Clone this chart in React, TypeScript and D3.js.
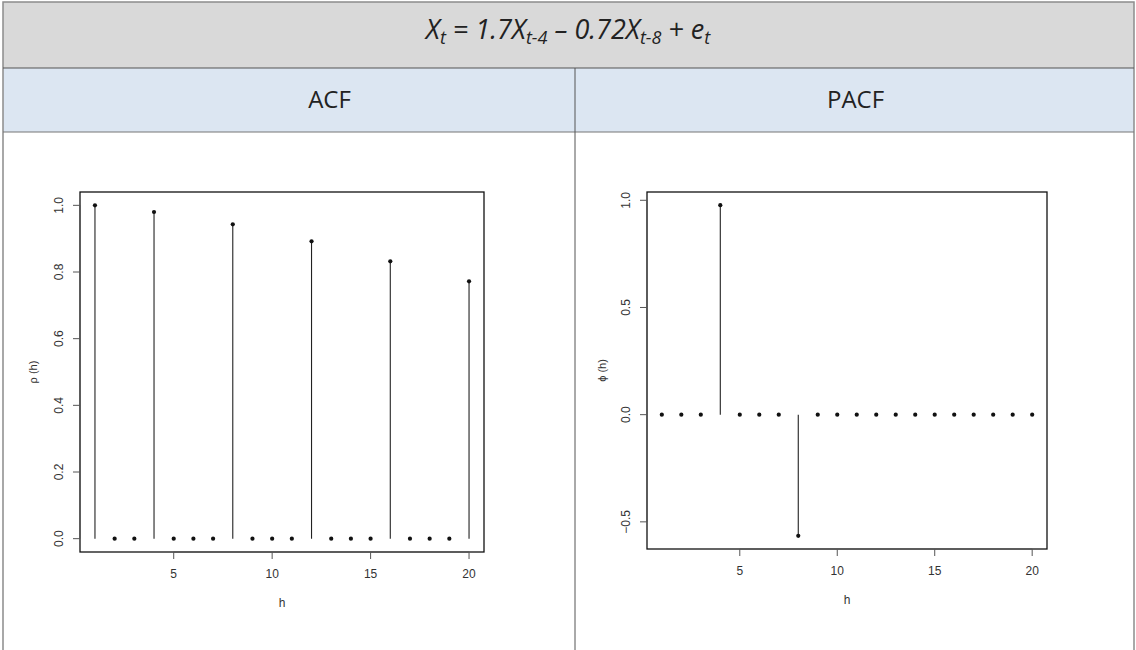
import * as d3 from "d3";

// lags 1..20 and the values
const LAGS = d3.range(1, 21);
const ACF_VALUES = [1.0, 0, 0, 0.98, 0, 0, 0, 0.943, 0, 0, 0, 0.892, 0, 0, 0, 0.832, 0, 0, 0, 0.772];
const PACF_VALUES = [0, 0, 0, 0.977, 0, 0, 0, -0.565, 0, 0, 0, 0, 0, 0, 0, 0, 0, 0, 0, 0];
const X_TICKS = [5, 10, 15, 20];
const ACF_Y_TICKS = [0, 0.2, 0.4, 0.6, 0.8, 1.0];
const PACF_Y_TICKS = [-0.5, 0, 0.5, 1.0];

const W = 1136;
const H = 650;
const DIVIDER_X = 575;
const BORDER = "#8c8c8c";
const TEXT = "#333";
const FONT = "'Liberation Sans', Arial, sans-serif";
const HEAD_FONT = "'Open Sans', 'Noto Sans', sans-serif";

type Frame = { left: number; top: number; right: number; bottom: number };

// R-style 4% padding on each side of the range
function padded(lo: number, hi: number): [number, number] {
  const p = (hi - lo) * 0.04;
  return [lo - p, hi + p];
}

function StemPlot({
  frame,
  values,
  yTicks,
  ylabel,
  yLabelX,
  yTickX,
}: {
  frame: Frame;
  values: number[];
  yTicks: number[];
  ylabel: string;
  yLabelX: number;
  yTickX: number;
}) {
  const x = d3
    .scaleLinear()
    .domain(padded(1, 20))
    .range([frame.left, frame.right]);
  const [lo, hi] = d3.extent(values) as [number, number];
  const y = d3
    .scaleLinear()
    .domain(padded(lo, hi))
    .range([frame.bottom, frame.top]);
  const fmt = d3.format(".1f");
  const tickLen = 7;
  const midY = (frame.top + frame.bottom) / 2;
  const midX = (frame.left + frame.right) / 2;

  return (
    <g fontFamily={FONT} fill={TEXT}>
      {/* stems */}
      {LAGS.map((h, i) => (
        <line
          key={`s${h}`}
          x1={x(h)}
          x2={x(h)}
          y1={y(0)}
          y2={y(values[i])}
          stroke="#222"
          strokeWidth={1.1}
        />
      ))}
      {LAGS.map((h, i) => (
        <circle key={`p${h}`} cx={x(h)} cy={y(values[i])} r={2.1} fill="#111" />
      ))}

      {/* frame */}
      <rect
        x={frame.left}
        y={frame.top}
        width={frame.right - frame.left}
        height={frame.bottom - frame.top}
        fill="none"
        stroke="#111"
        strokeWidth={1.3}
      />

      {/* x axis */}
      <line
        x1={x(X_TICKS[0])}
        x2={x(X_TICKS[X_TICKS.length - 1])}
        y1={frame.bottom}
        y2={frame.bottom}
        stroke="#555"
      />
      {X_TICKS.map((t) => (
        <g key={`xt${t}`}>
          <line
            x1={x(t)}
            x2={x(t)}
            y1={frame.bottom}
            y2={frame.bottom + tickLen}
            stroke="#555"
          />
          <text x={x(t)} y={frame.bottom + 22} dy="0.35em" textAnchor="middle" fontSize={12}>
            {t}
          </text>
        </g>
      ))}
      <text x={midX} y={frame.bottom + 51} dy="0.35em" textAnchor="middle" fontSize={12}>
        h
      </text>

      {/* y axis */}
      <line
        x1={frame.left}
        x2={frame.left}
        y1={y(yTicks[0])}
        y2={y(yTicks[yTicks.length - 1])}
        stroke="#555"
      />
      {yTicks.map((t) => (
        <g key={`yt${t}`}>
          <line
            x1={frame.left - tickLen}
            x2={frame.left}
            y1={y(t)}
            y2={y(t)}
            stroke="#555"
          />
          <text
            transform={`translate(${yTickX},${y(t)}) rotate(-90)`}
            dy="0.35em"
            textAnchor="middle"
            fontSize={12}
          >
            {fmt(t)}
          </text>
        </g>
      ))}
      <text
        transform={`translate(${yLabelX},${midY}) rotate(-90)`}
        dy="0.35em"
        textAnchor="middle"
        fontSize={11}
      >
        {ylabel}
      </text>
    </g>
  );
}

export default function App() {
  return (
    <svg
      width={W}
      height={H}
      style={{ position: "absolute", left: 0, top: 0, background: "#fff" }}
    >
      {/* table bands */}
      <rect x={3} y={2} width={W - 5} height={66} fill="#d9d9d9" />
      <rect x={3} y={68} width={W - 5} height={64} fill="#dce6f2" />
      <rect x={3} y={132} width={W - 5} height={H - 132} fill="#fff" />

      {/* borders */}
      <rect x={3} y={2} width={W - 5} height={H + 10} fill="none" stroke={BORDER} strokeWidth={1.5} />
      <line x1={3} x2={W - 2} y1={68} y2={68} stroke="#555" strokeWidth={1.2} />
      <line x1={3} x2={W - 2} y1={132} y2={132} stroke="#777" strokeWidth={1.2} />
      <line x1={DIVIDER_X} x2={DIVIDER_X} y1={68} y2={H} stroke="#555" strokeWidth={1} />

      {/* title */}
      <text
        x={W / 2}
        y={30}
        dy="0.35em"
        textAnchor="middle"
        fontFamily={HEAD_FONT}
        fontStyle="italic"
        fontSize={27}
        fill="#222"
      >
        <tspan>X</tspan>
        <tspan fontSize={18} dy={5}>t</tspan>
        <tspan dy={-5}> = 1.7X</tspan>
        <tspan fontSize={18} dy={5}>t-4</tspan>
        <tspan dy={-5}> – 0.72X</tspan>
        <tspan fontSize={18} dy={5}>t-8</tspan>
        <tspan dy={-5}> + e</tspan>
        <tspan fontSize={18} dy={5}>t</tspan>
      </text>

      <text
        x={DIVIDER_X / 2 + 42}
        y={100}
        dy="0.35em"
        textAnchor="middle"
        fontFamily={HEAD_FONT}
        fontSize={24}
        fill="#222"
      >
        ACF
      </text>
      <text
        x={(DIVIDER_X + W) / 2}
        y={100}
        dy="0.35em"
        textAnchor="middle"
        fontFamily={HEAD_FONT}
        fontSize={24}
        fill="#222"
      >
        PACF
      </text>

      <StemPlot
        frame={{ left: 80, top: 192, right: 484, bottom: 552 }}
        values={ACF_VALUES}
        yTicks={ACF_Y_TICKS}
        ylabel="ρ (h)"
        yLabelX={33}
        yTickX={59}
      />
      <StemPlot
        frame={{ left: 647, top: 192, right: 1047, bottom: 549 }}
        values={PACF_VALUES}
        yTicks={PACF_Y_TICKS}
        ylabel="ϕ (h)"
        yLabelX={602}
        yTickX={626}
      />
    </svg>
  );
}
